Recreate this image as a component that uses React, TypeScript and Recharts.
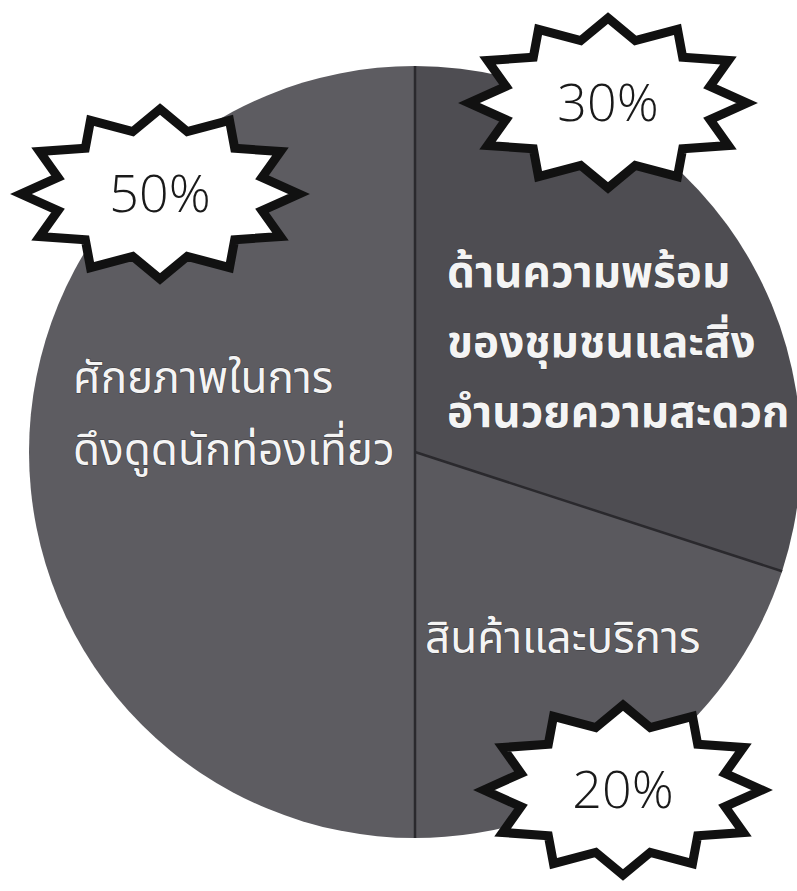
import { PieChart, Pie, Cell } from "recharts";

// slices clockwise from 12 o'clock
const categories = [
  "ด้านความพร้อมของชุมชนและสิ่งอำนวยความสะดวก",
  "สินค้าและบริการ",
  "ศักยภาพในการดึงดูดนักท่องเที่ยว",
];
const shares = [30, 20, 50];
const categoryLines = [
  ["ด้านความพร้อม", "ของชุมชนและสิ่ง", "อำนวยความสะดวก"],
  ["สินค้าและบริการ"],
  ["ศักยภาพในการ", "ดึงดูดนักท่องเที่ยว"],
];
const percentLabels = ["30%", "20%", "50%"];

const sliceColors = ["#4e4d52", "#5a595e", "#5d5c61"];

const data = categories.map((name, i) => ({ name, value: shares[i] }));

const W = 797;
const H = 891;
const PIE_CX = 415;
const PIE_CY = 452;
const PIE_R = 386;

const THAI_FONT = "'Noto Sans Thai', Tahoma, sans-serif";

// where each slice's caption and starburst sit, relative to the pie centre
const captionSpots = [
  { dx: 32, dy: -165, gap: 70, weight: 700 },
  { dx: 10, dy: 201, gap: 0, weight: 400 },
  { dx: -342, dy: -59, gap: 72, weight: 400 },
];
const starSpots = [
  { dx: 193, dy: -349, ty: 18 },
  { dx: 208, dy: 338, ty: 18 },
  { dx: -255, dy: -258, ty: 18 },
];

function starPath(x: number, y: number, rx: number, ry: number, points = 12, inner = 0.76) {
  let d = "";
  for (let i = 0; i < points * 2; i++) {
    const a = -Math.PI / 2 + (i * Math.PI) / points;
    const f = i % 2 === 0 ? 1 : inner;
    d += `${i ? "L" : "M"}${(x + rx * f * Math.cos(a)).toFixed(1)},${(y + ry * f * Math.sin(a)).toFixed(1)}`;
  }
  return d + "Z";
}

const renderLabel = (props: any) => {
  const { cx, cy, startAngle, outerRadius, index } = props;
  const rad = (-startAngle * Math.PI) / 180;
  const ex = cx + outerRadius * Math.cos(rad);
  const ey = cy + outerRadius * Math.sin(rad);
  const cap = captionSpots[index];
  const star = starSpots[index];
  const sx = cx + star.dx;
  const sy = cy + star.dy;
  return (
    <g key={`lbl-${index}`}>
      <line x1={cx} y1={cy} x2={ex} y2={ey} stroke="#2a292d" strokeWidth={2.5} />
      {categoryLines[index].map((line, j) => (
        <text
          key={j}
          x={cx + cap.dx}
          y={cy + cap.dy + j * cap.gap}
          fill="#f4f4f4"
          stroke="#3a393d"
          strokeWidth={1}
          paintOrder="stroke"
          fontFamily={THAI_FONT}
          fontSize={44}
          fontWeight={cap.weight}
          textAnchor="start"
        >
          {line}
        </text>
      ))}
      <path
        d={starPath(sx, sy, 139, 85)}
        fill="#ffffff"
        stroke="#111111"
        strokeWidth={9}
        strokeLinejoin="miter"
        strokeMiterlimit={10}
      />
      <text
        x={sx}
        y={sy + star.ty}
        textAnchor="middle"
        fill="#1a1a1a"
        fontFamily="'Open Sans', Lato, sans-serif"
        fontWeight={300}
        fontSize={52}
      >
        {percentLabels[index]}
      </text>
    </g>
  );
};

export default function App() {
  return (
    <div style={{ width: W, height: H, background: "#ffffff" }}>
      <style>{"body{margin:0}"}</style>
      <PieChart width={W} height={H} margin={{ top: 0, right: 0, bottom: 0, left: 0 }}>
        <Pie
          data={data}
          dataKey="value"
          nameKey="name"
          cx={PIE_CX}
          cy={PIE_CY}
          outerRadius={PIE_R}
          startAngle={90}
          endAngle={-270}
          stroke="none"
          label={renderLabel}
          labelLine={false}
          isAnimationActive={false}
        >
          {data.map((d, i) => (
            <Cell key={d.name} fill={sliceColors[i]} />
          ))}
        </Pie>
      </PieChart>
    </div>
  );
}
